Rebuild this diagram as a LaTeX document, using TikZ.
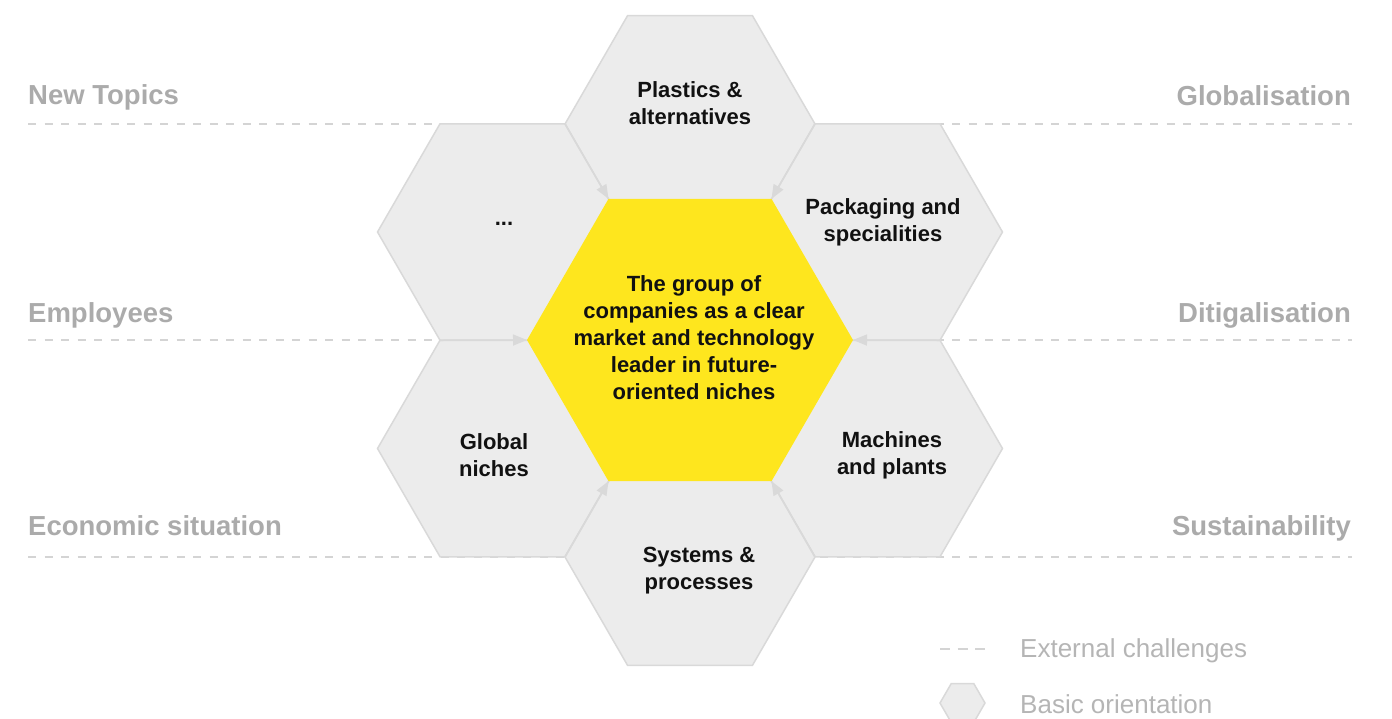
\documentclass[tikz,border=0pt]{standalone}
\usepackage{fontspec}
\setmainfont{Liberation Sans}
\usetikzlibrary{shapes.geometric,arrows.meta}
\definecolor{hexfill}{HTML}{ECECEC}
\definecolor{hexline}{HTML}{D9D9D9}
\definecolor{coreyellow}{HTML}{FEE61E}
\definecolor{lblgray}{HTML}{ABABAB}
\definecolor{leggray}{HTML}{B5B5B5}
\definecolor{dashgray}{HTML}{D4D4D4}
\definecolor{ink}{HTML}{111111}
\begin{document}
\begin{tikzpicture}[x=1pt,y=-1pt,
  hexbox/.style={regular polygon, regular polygon sides=6, minimum size=250pt, inner sep=0pt, outer sep=0pt, fill=hexfill, draw=hexline, line width=1.5pt},
  corehex/.style={regular polygon, regular polygon sides=6, minimum size=326pt, inner sep=0pt, outer sep=0pt, fill=coreyellow, draw=none},
  hextext/.style={font=\bfseries\fontsize{22}{27}\selectfont, text=ink, align=center, inner sep=0pt},
  sidelabel/.style={font=\bfseries\fontsize{27.5}{31}\selectfont, text=lblgray, inner sep=0pt},
  legtext/.style={font=\fontsize{26}{30}\selectfont, text=leggray, inner sep=0pt, anchor=base west},
  guide/.style={draw=dashgray, line width=1.5pt, dash pattern=on 8pt off 8.5pt},
  feed/.style={draw=hexline, line width=1.5pt, -{Triangle[length=14pt,width=11pt,fill=hexline]}},
]
\useasboundingbox (0,0) rectangle (1392,718);

% external challenge guide lines
\coordinate (g1a) at (28,124);  \coordinate (g1b) at (1352,124);
\coordinate (g2a) at (28,340);  \coordinate (g2b) at (1352,340);
\coordinate (g3a) at (28,557);  \coordinate (g3b) at (1352,557);
\draw[guide] (g1a) -- (g1b);
\draw[guide] (g2a) -- (g2b);
\draw[guide] (g3a) -- (g3b);

% side labels
\node[sidelabel, anchor=base west] (newtopics) at (28,104) {New Topics};
\node[sidelabel, anchor=base west] (employees) at (28,322) {Employees};
\node[sidelabel, anchor=base west] (economic) at (28,535) {Economic situation};
\node[sidelabel, anchor=base east] (globalisation) at (1351,105) {Globalisation};
\node[sidelabel, anchor=base east] (digital) at (1351,322) {Ditigalisation};
\node[sidelabel, anchor=base east] (sustain) at (1351,535) {Sustainability};

% outer hexagons
\node[hexbox] (top) at (690,124) {};
\node[hexbox] (ul) at (502.5,232) {};
\node[hexbox] (ur) at (877.5,232) {};
\node[hexbox] (ll) at (502.5,448.5) {};
\node[hexbox] (lr) at (877.5,448.5) {};
\node[hexbox] (bottom) at (690,557) {};

% core hexagon
\node[corehex] (core) at (690,340) {};

% arrows towards the core
\draw[feed] (top.corner 3) -- (core.corner 2);
\draw[feed] (top.corner 6) -- (core.corner 1);
\draw[feed] (ul.corner 4) -- (core.corner 3);
\draw[feed] (ur.corner 5) -- (core.corner 6);
\draw[feed] (bottom.corner 3) -- (core.corner 4);
\draw[feed] (bottom.corner 6) -- (core.corner 5);

% texts
\node[hextext] (ttop) at (690,103.5) {Plastics \&\\alternatives};
\node[hextext] (tul) at (504,224) {...};
\node[hextext] (tur) at (883,222) {Packaging and\\specialities};
\node[hextext] (tll) at (494,455) {Global\\niches};
\node[hextext] (tlr) at (892,455) {Machines\\and plants};
\node[hextext] (tbottom) at (699,571) {Systems \&\\processes};
\node[hextext] (tcore) at (694,338) {The group of\\companies as a clear\\market and technology\\leader in future-\\oriented niches};

% legend
\coordinate (la) at (940,649); \coordinate (lb) at (985,649);
\draw[draw=dashgray, line width=1.5pt, dash pattern=on 10pt off 7.5pt] (la) -- (lb);
\node[legtext] (legdash) at (1020,657) {External challenges};
\node[regular polygon, regular polygon sides=6, minimum size=45pt, inner sep=0pt, fill=hexfill, draw=hexline, line width=1.5pt] (leghex) at (962.5,703) {};
\node[legtext] (leghextext) at (1020,713) {Basic orientation};
\end{tikzpicture}
\end{document}
